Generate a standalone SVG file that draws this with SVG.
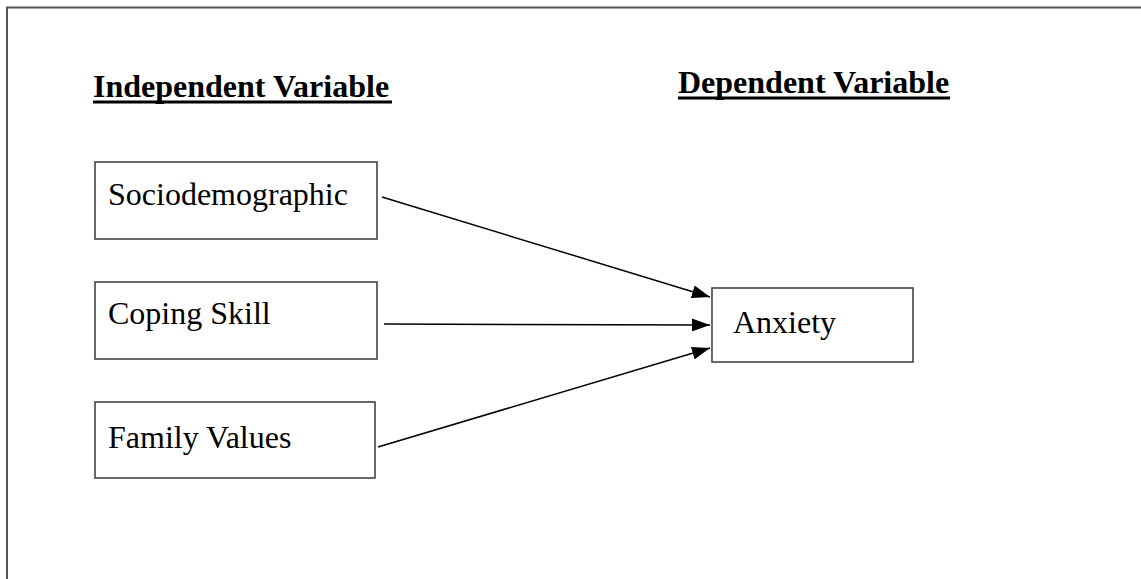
<svg xmlns="http://www.w3.org/2000/svg" width="1141" height="579" viewBox="0 0 1141 579">
<style>
.box{fill:#fff;stroke:#444;stroke-width:1.6}
.frame{fill:none;stroke:#555;stroke-width:2}
.t{font-family:"Liberation Serif","Times New Roman",serif;font-size:32px;fill:#000}
.h{font-family:"Liberation Serif","Times New Roman",serif;font-size:32px;font-weight:bold;fill:#000}
.ul{stroke:#000;stroke-width:3}
.c{stroke:#000;stroke-width:1.5;fill:none;marker-end:url(#ah)}
</style>
<defs>
<marker id="ah" viewBox="0 0 18 13" refX="18" refY="6.5" markerWidth="18" markerHeight="13" markerUnits="userSpaceOnUse" orient="auto">
<path d="M0,0 L18,6.5 L0,13 Z" fill="#000"/>
</marker>
</defs>
<rect width="1141" height="579" fill="#fff"/>
<path class="frame" d="M7,579 L7,7.5 L1141,7.5"/>
<g id="heading-independent">
<text class="h" x="93" y="97">Independent Variable</text>
<line class="ul" x1="93" y1="102" x2="392" y2="102"/>
</g>
<g id="heading-dependent">
<text class="h" x="678" y="93">Dependent Variable</text>
<line class="ul" x1="678" y1="98" x2="950" y2="98"/>
</g>
<g id="node-sociodemographic">
<rect class="box" x="95" y="162" width="282" height="77"/>
<text class="t" x="108" y="205">Sociodemographic</text>
</g>
<g id="node-coping">
<rect class="box" x="95" y="282" width="282" height="77"/>
<text class="t" x="108" y="324">Coping Skill</text>
</g>
<g id="node-family">
<rect class="box" x="95" y="402" width="280" height="76"/>
<text class="t" x="108" y="448">Family Values</text>
</g>
<g id="node-anxiety">
<rect class="box" x="712" y="288" width="201" height="74"/>
<text class="t" x="733" y="333">Anxiety</text>
</g>
<g id="connectors">
<line class="c" x1="382" y1="197" x2="710" y2="297"/>
<line class="c" x1="384" y1="324" x2="710" y2="325"/>
<line class="c" x1="378" y1="447" x2="710" y2="348"/>
</g>
</svg>
